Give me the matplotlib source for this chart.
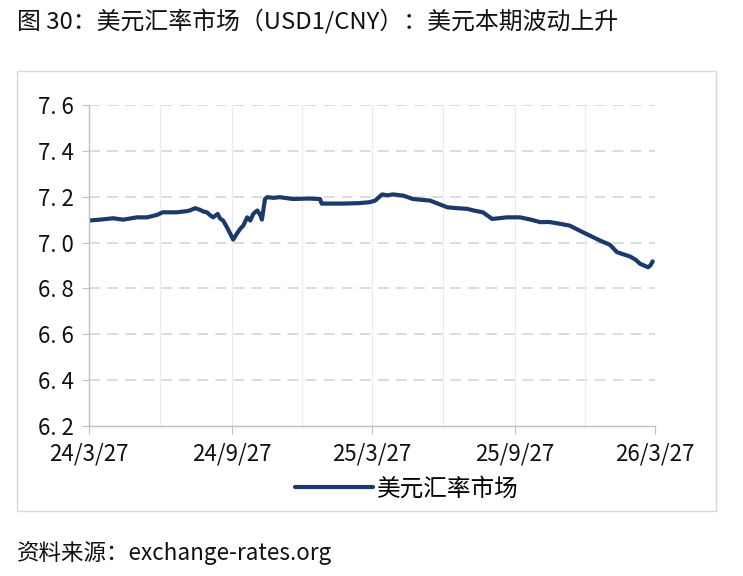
import matplotlib
matplotlib.use("Agg")
import matplotlib.pyplot as plt
import pandas as pd
from matplotlib.patches import Rectangle

plt.rcParams['font.family'] = ['Noto Sans CJK SC', 'DejaVu Sans']

title = "图 30：美元汇率市场（USD1/CNY）：美元本期波动上升"
source = "资料来源：exchange-rates.org"
series_name = "美元汇率市场"

dates = ["2024-03-27", "2024-04-10", "2024-04-27", "2024-05-10", "2024-05-28",
         "2024-06-10", "2024-06-23", "2024-06-30", "2024-07-18", "2024-07-31",
         "2024-08-04", "2024-08-11", "2024-08-17", "2024-08-22", "2024-08-26",
         "2024-08-30", "2024-09-03", "2024-09-09", "2024-09-12", "2024-09-16",
         "2024-09-22", "2024-09-29", "2024-10-04", "2024-10-08", "2024-10-12",
         "2024-10-17", "2024-10-21", "2024-10-25", "2024-10-30", "2024-11-03",
         "2024-11-05", "2024-11-09", "2024-11-12", "2024-11-20", "2024-11-28",
         "2024-12-15", "2025-01-05", "2025-01-19", "2025-01-21", "2025-02-18",
         "2025-03-10", "2025-03-24", "2025-03-31", "2025-04-09", "2025-04-16",
         "2025-04-23", "2025-05-06", "2025-05-19", "2025-06-10", "2025-07-02",
         "2025-07-15", "2025-07-28", "2025-08-05", "2025-08-17", "2025-08-29",
         "2025-09-17", "2025-10-04", "2025-10-18", "2025-10-30", "2025-11-10",
         "2025-11-21", "2025-12-07", "2025-12-24", "2026-01-15", "2026-01-28",
         "2026-02-06", "2026-02-23", "2026-03-02", "2026-03-08", "2026-03-13",
         "2026-03-18", "2026-03-21", "2026-03-24"]
values = [7.096, 7.100, 7.106, 7.100, 7.110,
          7.110, 7.121, 7.132, 7.132, 7.137,
          7.140, 7.150, 7.143, 7.135, 7.132,
          7.120, 7.110, 7.125, 7.105, 7.096,
          7.060, 7.013, 7.040, 7.060, 7.074,
          7.110, 7.096, 7.126, 7.140, 7.120,
          7.100, 7.190, 7.198, 7.195, 7.198,
          7.190, 7.192, 7.190, 7.170, 7.170,
          7.172, 7.176, 7.183, 7.210, 7.206,
          7.210, 7.205, 7.190, 7.183, 7.154,
          7.150, 7.147, 7.140, 7.132, 7.103,
          7.110, 7.110, 7.100, 7.089, 7.090,
          7.084, 7.074, 7.045, 7.009, 6.990,
          6.958, 6.939, 6.925, 6.907, 6.900,
          6.892, 6.900, 6.918]

x_ticks = ["2024-03-27", "2024-09-27", "2025-03-27", "2025-09-27", "2026-03-27"]
x_ticklabels = ["24/3/27", "24/9/27", "25/3/27", "25/9/27", "26/3/27"]
x_minor = ["2024-06-27", "2024-12-27", "2025-06-27", "2025-12-27"]
y_ticks = [6.2, 6.4, 6.6, 6.8, 7.0, 7.2, 7.4, 7.6]
y_ticklabels = ["6. 2", "6. 4", "6. 6", "6. 8", "7. 0", "7. 2", "7. 4", "7. 6"]

line_color = "#1b3a6b"
grid_color = "#d9d9d9"

fig = plt.figure(figsize=(7.43, 5.76), dpi=100)
fig.patch.set_facecolor("white")

fig.add_artist(Rectangle((17/743, 1-511/576), 699/743, 440/576, transform=fig.transFigure,
                         fill=False, edgecolor="#d9d9d9", linewidth=1.0))

ax = fig.add_axes([89/743, 1-426/576, (655-89)/743, (426-105)/576])

d = pd.to_datetime(dates)
ln, = ax.plot(d, values, color=line_color, linewidth=3.0, label=series_name,
              solid_joinstyle='round', solid_capstyle='round')

ax.set_ylim(6.2, 7.6)
ax.set_xlim(pd.Timestamp(x_ticks[0]), pd.Timestamp(x_ticks[-1]))
ax.set_yticks(y_ticks)
ax.set_yticklabels(y_ticklabels)
ax.set_xticks(pd.to_datetime(x_ticks))
ax.set_xticklabels(x_ticklabels)
ax.set_xticks(pd.to_datetime(x_minor), minor=True)

for y in y_ticks[1:]:
    ax.axhline(y, color=grid_color, linewidth=1.3, linestyle=(0, (6, 4)), zorder=0)
for xv in list(x_ticks[1:]) + list(x_minor):
    ax.axvline(pd.Timestamp(xv), color="#ececec", linewidth=0.9, zorder=0)

for s in ["top", "right"]:
    ax.spines[s].set_visible(False)
for s in ["left", "bottom"]:
    ax.spines[s].set_color("#bfbfbf")
    ax.spines[s].set_linewidth(1.0)

ax.tick_params(axis="y", which="major", length=5, color="#bfbfbf", labelsize=16, pad=6, labelcolor="#111111")
ax.tick_params(axis="x", which="major", length=6, color="#bfbfbf", labelsize=16, pad=6, labelcolor="#111111")
ax.tick_params(axis="x", which="minor", length=0)

fig.text(17/743, 1-22/576, title, fontsize=17.2, ha="left", va="center", color="#111111")
fig.text(17/743, 1-553/576, source, fontsize=16.2, ha="left", va="center", color="#111111")

fig.legend(handles=[ln], loc="center", bbox_to_anchor=(407/743, 1-489/576), frameon=False,
           fontsize=17, handlelength=3.3, handletextpad=0.2, borderaxespad=0)

fig.savefig("out.png", dpi=100, facecolor="white")
